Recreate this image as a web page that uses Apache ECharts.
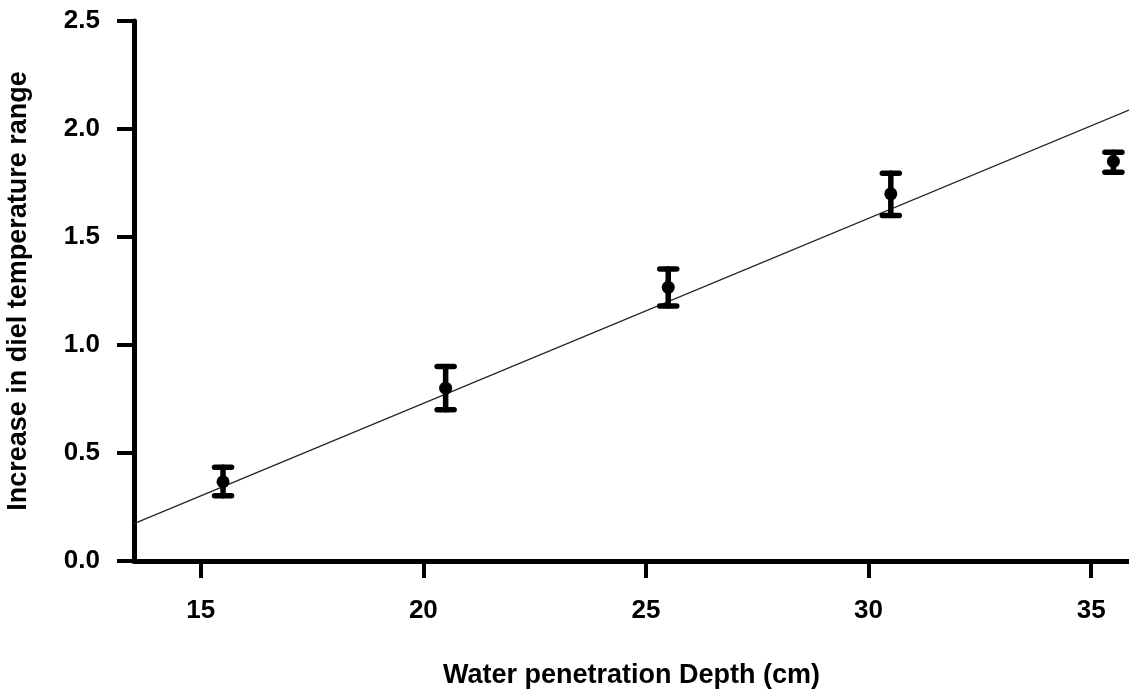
<!DOCTYPE html>
<html>
<head>
<meta charset="utf-8">
<script src="https://cdn.jsdelivr.net/npm/echarts@6/dist/echarts.min.js"></script>
<style>
  html, body { margin: 0; padding: 0; background: #fff; }
  #chart { width: 1129px; height: 692px; }
</style>
</head>
<body>
<div id="chart"></div>
<script>
// Water penetration depth (cm) at each measurement
var depth = [15.5, 20.5, 25.5, 30.5, 35.5];
// Mean increase in diel temperature range, with lower / upper error limits
var meanIncrease = [0.367, 0.80, 1.267, 1.70, 1.85];
var errLow = [0.302, 0.70, 1.18, 1.60, 1.80];
var errHigh = [0.434, 0.90, 1.352, 1.795, 1.892];
// End points of the fitted regression line
var fitLine = [[13.5, 0.173], [35.85, 2.088]];
// Axis tick labels
var xTicks = [15, 20, 25, 30, 35];
var yTicks = [0.0, 0.5, 1.0, 1.5, 2.0, 2.5];

var FONT = '"Liberation Sans", Arial, sans-serif';

var pointData = depth.map(function (d, i) { return [d, meanIncrease[i]]; });
var errData = depth.map(function (d, i) { return [d, errLow[i], errHigh[i]]; });

var chart = echarts.init(document.getElementById('chart'), null, { renderer: 'canvas' });

chart.setOption({
  animation: false,
  backgroundColor: '#ffffff',
  grid: { left: 134, right: 0, top: 21, bottom: 131, containLabel: false, outerBoundsMode: 'none' },
  xAxis: {
    type: 'value',
    min: 13.5,
    max: 35.85,
    name: 'Water penetration Depth (cm)',
    nameLocation: 'middle',
    nameGap: 101,
    nameTextStyle: { fontFamily: FONT, fontWeight: 'bold', fontSize: 27, color: '#000' },
    splitLine: { show: false },
    axisLine: { show: true, onZero: false, lineStyle: { color: '#000', width: 5 } },
    axisTick: { show: true, length: 17, customValues: xTicks, lineStyle: { color: '#000', width: 4 } },
    axisLabel: {
      customValues: xTicks,
      margin: 37,
      fontFamily: FONT, fontWeight: 'bold', fontSize: 26, color: '#000'
    }
  },
  yAxis: {
    type: 'value',
    min: 0,
    max: 2.5,
    interval: 0.5,
    name: 'Increase in diel temperature range',
    nameLocation: 'middle',
    nameGap: 102,
    nameTextStyle: { fontFamily: FONT, fontWeight: 'bold', fontSize: 27, color: '#000' },
    splitLine: { show: false },
    axisLine: { show: true, lineStyle: { color: '#000', width: 5 } },
    axisTick: { show: true, length: 17, lineStyle: { color: '#000', width: 4 } },
    axisLabel: {
      margin: 34,
      fontFamily: FONT, fontWeight: 'bold', fontSize: 26, color: '#000',
      formatter: function (v) { return v.toFixed(1); }
    }
  },
  series: [
    {
      type: 'line',
      data: fitLine,
      symbol: 'none',
      clip: true,
      lineStyle: { color: '#222', width: 1.2 },
      z: 1
    },
    {
      type: 'custom',
      data: errData,
      clip: false,
      renderItem: function (params, api) {
        var x = api.value(0);
        var lo = api.coord([x, api.value(1)]);
        var hi = api.coord([x, api.value(2)]);
        var half = 8.5;
        var style = { stroke: '#000', lineWidth: 5.5, lineCap: 'round' };
        return {
          type: 'group',
          children: [
            { type: 'line', shape: { x1: lo[0], y1: lo[1], x2: hi[0], y2: hi[1] }, style: style },
            { type: 'line', shape: { x1: lo[0] - half, y1: lo[1], x2: lo[0] + half, y2: lo[1] }, style: style },
            { type: 'line', shape: { x1: hi[0] - half, y1: hi[1], x2: hi[0] + half, y2: hi[1] }, style: style }
          ]
        };
      },
      z: 3
    },
    {
      type: 'scatter',
      data: pointData,
      symbol: 'circle',
      symbolSize: 13,
      itemStyle: { color: '#000', opacity: 1 },
      z: 4
    }
  ]
});
</script>
</body>
</html>
